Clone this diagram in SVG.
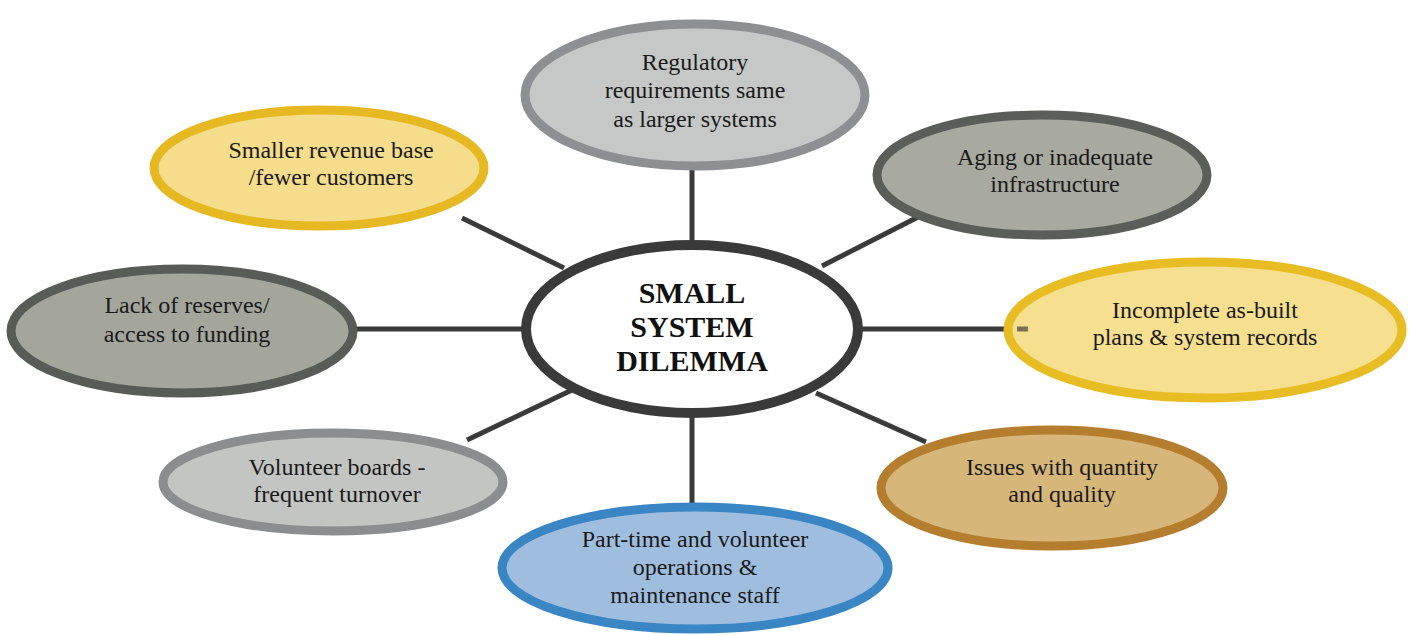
<svg xmlns="http://www.w3.org/2000/svg" width="1410" height="635" viewBox="0 0 1410 635">
<style>
.t{font-family:"Liberation Serif","Times New Roman",serif;font-size:24px;fill:#1a1a1a;text-anchor:middle}
.c{font-family:"Liberation Serif","Times New Roman",serif;font-size:30px;font-weight:bold;fill:#111;text-anchor:middle}
.n{stroke-width:9}
.l{stroke:#3a3a3a;stroke-width:5;fill:none}
</style>
<rect width="1410" height="635" fill="#fff"/>
<g id="connectors">
<line class="l" x1="692" y1="168" x2="692" y2="246"/>
<line class="l" x1="822" y1="266" x2="926" y2="213"/>
<line class="l" x1="462" y1="218" x2="564" y2="268"/>
<line class="l" x1="356" y1="329" x2="526" y2="329"/>
<line class="l" x1="860" y1="329" x2="1006" y2="329"/>
<line class="l" x1="467" y1="440" x2="572" y2="390"/>
<line class="l" x1="692" y1="412" x2="692" y2="506"/>
<line class="l" x1="816" y1="393" x2="926" y2="442"/>
</g>
<g id="regulatory">
<ellipse class="n" cx="695" cy="95" rx="170" ry="71" fill="#c5c8c6" stroke="#8e8f92"/>
<text class="t" x="695" y="70">Regulatory</text>
<text class="t" x="695" y="98">requirements same</text>
<text class="t" x="695" y="127">as larger systems</text>
</g>
<g id="aging">
<ellipse class="n" cx="1042" cy="175" rx="165" ry="60" fill="#a8a99f" stroke="#5b5e58"/>
<text class="t" x="1055" y="165">Aging or inadequate</text>
<text class="t" x="1055" y="192">infrastructure</text>
</g>
<g id="revenue">
<ellipse class="n" cx="319" cy="168" rx="165" ry="58" fill="#f5dd8c" stroke="#e6b822"/>
<text class="t" x="331" y="158">Smaller revenue base</text>
<text class="t" x="331" y="185">/fewer customers</text>
</g>
<g id="reserves">
<ellipse class="n" cx="182" cy="331" rx="171" ry="62" fill="#a4a69c" stroke="#585c56"/>
<text class="t" x="187" y="313">Lack of reserves/</text>
<text class="t" x="187" y="342">access to funding</text>
</g>
<g id="center">
<ellipse cx="692" cy="329" rx="166" ry="84" fill="#fff" stroke="#3a3a3a" stroke-width="10"/>
<text class="c" x="692" y="303">SMALL</text>
<text class="c" x="692" y="337">SYSTEM</text>
<text class="c" x="692" y="371">DILEMMA</text>
</g>
<g id="incomplete">
<ellipse class="n" cx="1205" cy="330" rx="197" ry="68" fill="#f6df8e" stroke="#e8bd24"/>
<line x1="1017" y1="329" x2="1028" y2="329" stroke="#7d6d55" stroke-width="5"/>
<text class="t" x="1205" y="318">Incomplete as-built</text>
<text class="t" x="1205" y="345">plans &amp; system records</text>
</g>
<g id="volunteer">
<ellipse class="n" cx="333" cy="482" rx="170" ry="49" fill="#c3c5c3" stroke="#8b8d8e"/>
<text class="t" x="337" y="475">Volunteer boards -</text>
<text class="t" x="337" y="502">frequent turnover</text>
</g>
<g id="parttime">
<ellipse class="n" cx="695" cy="568" rx="193" ry="61" fill="#9fbedf" stroke="#3a85c4"/>
<text class="t" x="695" y="547">Part-time and volunteer</text>
<text class="t" x="695" y="575">operations &amp;</text>
<text class="t" x="695" y="603">maintenance staff</text>
</g>
<g id="issues">
<ellipse class="n" cx="1052" cy="488" rx="171" ry="58" fill="#d7b779" stroke="#b47e2e"/>
<text class="t" x="1062" y="475">Issues with quantity</text>
<text class="t" x="1062" y="502">and quality</text>
</g>
</svg>
